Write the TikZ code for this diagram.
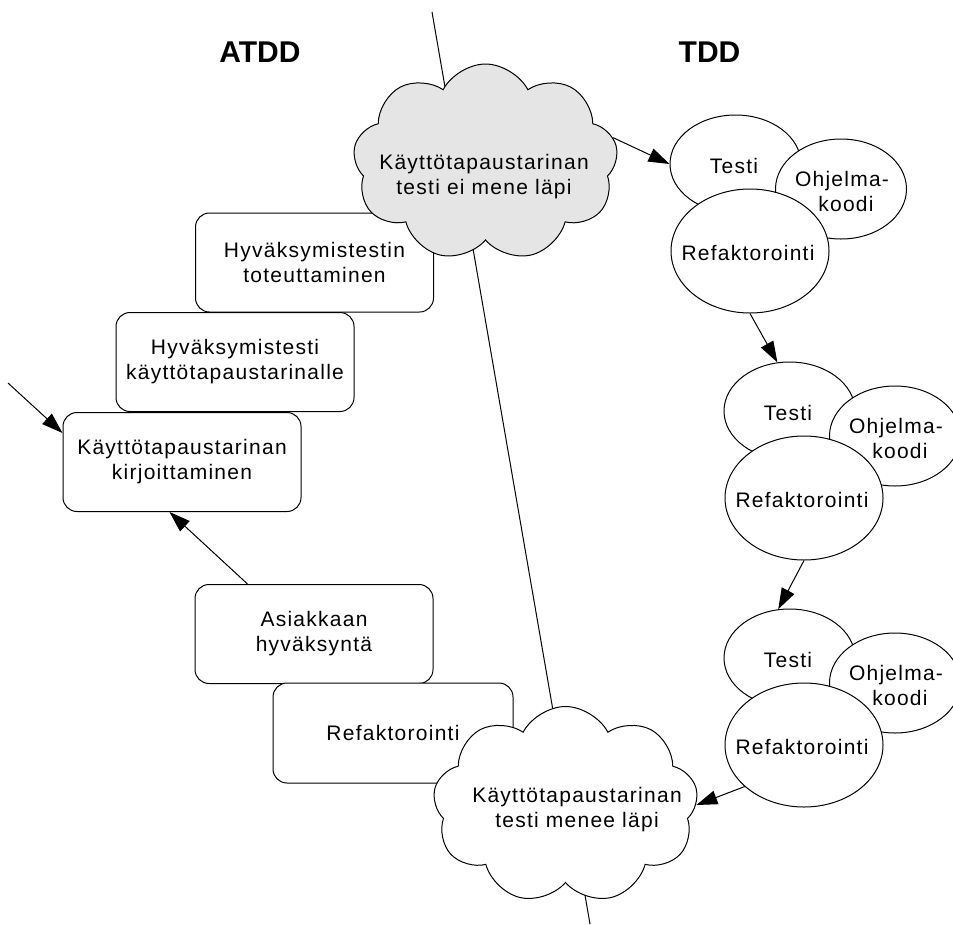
\documentclass[tikz,border=0pt]{standalone}
\usepackage{fontspec}
\setmainfont{Liberation Sans}
\usetikzlibrary{shapes.geometric,shapes.symbols,arrows.meta}
\begin{document}
\begin{tikzpicture}[x=1pt,y=-1pt,line width=1pt,
  every node/.style={font=\fontsize{21}{25}\selectfont\addfontfeature{LetterSpace=6}},
  box/.style={draw,fill=white,rounded corners=14pt,minimum width=238pt,minimum height=99pt,align=center,inner sep=0pt},
  ell/.style={draw,fill=white,ellipse,inner sep=0pt},
  lbl/.style={align=center,inner sep=0pt},
  cld/.style={draw,cloud,cloud puffs=9,cloud puff arc=125,cloud ignores aspect,minimum width=265pt,minimum height=197pt,inner sep=0pt},
  txt/.style={align=center,inner sep=0pt},
  arr/.style={-{Triangle[length=21pt,width=14pt]}},
  ttl/.style={font=\fontsize{30}{32}\selectfont\bfseries,inner sep=0pt}]
\useasboundingbox (0,0) rectangle (953,924);
% main slanted line
\coordinate (ltop) at (432,12);
\coordinate (lbot) at (590,924);
\draw (ltop) -- (lbot);
% titles
\node[ttl] (atdd) at (260,52.5) {ATDD};
\node[ttl] (tdd) at (709.5,52.5) {TDD};
% ATDD boxes
\node[box] (b1) at (314.5,262.5) {Hyväksymistestin\\toteuttaminen};
\node[box] (b2) at (235,362) {Hyväksymistesti\\käyttötapaustarinalle};
\node[box] (b3) at (182,462) {Käyttötapaustarinan\\kirjoittaminen};
\node[box] (b4) at (314,634) {Asiakkaan\\hyväksyntä};
\node[box,minimum width=240pt,minimum height=100pt] (b5) at (393,733) {Refaktorointi};
% clouds
\node[cld,fill=gray!20] (c1) at (485.5,162.5) {};
\node[txt] (c1t) at (484,177) {Käyttötapaustarinan\\testi ei mene läpi};
\node[cld,fill=white] (c2) at (565.5,805) {};
\node[txt] (c2t) at (577,810) {Käyttötapaustarinan\\testi menee läpi};
% TDD groups
\foreach \g/\rx/\ry in {1/750/251,2/804/498,3/804/745}{
  \node[ell,minimum width=131pt,minimum height=98pt] (g\g t) at (\rx-14.5,\ry-87) {};
  \node[lbl] (g\g tl) at (\rx-16,\ry-85) {Testi};
  \node[ell,minimum width=131pt,minimum height=100pt] (g\g o) at (\rx+91,\ry-62) {};
  \node[lbl] (g\g ol) at (\rx+92,\ry-60) {Ohjelma-\\\hspace*{8pt}koodi};
  \node[ell,minimum width=158pt,minimum height=124pt] (g\g r) at (\rx,\ry) {};
  \node[lbl] (g\g rl) at (\rx-2,\ry+2) {Refaktorointi};
}
% arrows
\coordinate (lin) at (8,383);
\draw[arr] (lin) -- ([yshift=-21pt]b3.north west);
\draw[arr] ([xshift=53pt]b4.north west) -- ([xshift=107pt]b3.south west);
\draw[arr] (c1.11) -- (g1t.west);
\draw[arr] (g1r.south) -- (g2t.104);
\draw[arr] (g2r.south) -- (g3t.103);
\draw[arr] (g3r.215) -- (c2.east);
\end{tikzpicture}
\end{document}
